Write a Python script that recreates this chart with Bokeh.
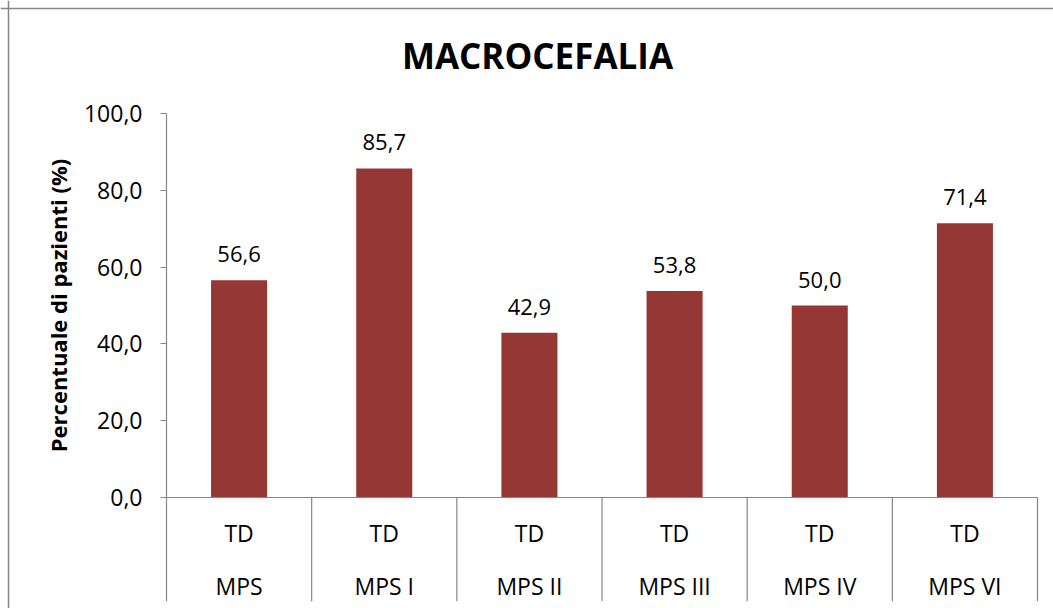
from bokeh.plotting import figure
from bokeh.models import ColumnDataSource, Range1d, FixedTicker, CustomJSTickFormatter, Span
from bokeh.core.properties import value
from bokeh.embed import file_html
from bokeh.resources import INLINE

# Macrocefalia: percentage of patients per MPS type (TD)
title = "MACROCEFALIA"
y_label = "Percentuale di pazienti (%)"
groups = ["MPS", "MPS I", "MPS II", "MPS III", "MPS IV", "MPS VI"]
subgroups = ["TD", "TD", "TD", "TD", "TD", "TD"]
values = [56.6, 85.7, 42.9, 53.8, 50.0, 71.4]
y_ticks = [0, 20, 40, 60, 80, 100]

FONT = "Open Sans"
GREY = "#868686"
BAR = "#953735"

W, H = 1053, 608
# plot area in pixels: categories span x 166..1037, value 0..100 spans y 497..113
LEFT, RIGHT, ZERO_Y, TOP_Y = 166, 1037, 497, 113
n = len(groups)
px_x = (RIGHT - LEFT) / n
px_y = (ZERO_Y - TOP_Y) / 100.0


def to_x(px):
    return (px - LEFT) / px_x


def to_y(py):
    return (ZERO_Y - py) / px_y


centers = [i + 0.5 for i in range(n)]
labels = [f"{v:.1f}".replace(".", ",") for v in values]
src = ColumnDataSource(dict(x=centers, group=groups, sub=subgroups,
                            value=values, label=labels))

y_low = -27.0  # bottom of the category rows

p = figure(width=W, height=H, output_backend="svg", toolbar_location=None,
           x_range=Range1d(to_x(0), to_x(W)),
           y_range=Range1d(to_y(H), to_y(0)),
           x_axis_location=None, title=None,
           min_border_left=0, min_border_right=0,
           min_border_top=0, min_border_bottom=0)
p.outline_line_color = None
p.xgrid.visible = False
p.ygrid.visible = False
p.background_fill_color = "white"
p.border_fill_color = "white"

# value axis at the left edge of the categories, drawn only over 0..100
ax = p.yaxis[0]
ax.fixed_location = 0
ax.bounds = (0, 100)
ax.ticker = FixedTicker(ticks=y_ticks)
ax.formatter = CustomJSTickFormatter(code="return tick.toFixed(1).replace('.', ',');")
ax.minor_tick_line_color = None
ax.major_tick_in = 0
ax.major_tick_out = 6
ax.axis_line_color = GREY
ax.axis_line_width = 1.2
ax.major_tick_line_color = GREY
ax.major_tick_line_width = 1.2
ax.major_label_standoff = 18
ax.major_label_text_font = FONT
ax.major_label_text_font_size = "23px"
ax.major_label_text_color = "black"
ax.axis_label = y_label
ax.axis_label_text_font = FONT
ax.axis_label_text_font_size = "22px"
ax.axis_label_text_font_style = "bold"
ax.axis_label_text_color = "black"
ax.axis_label_standoff = 8

txt = dict(text_align="center", text_baseline="middle",
           text_font=value(FONT), text_color="black")

# outer chart border: top and left edges
p.add_layout(Span(location=to_y(8), dimension="width", line_color=GREY, line_width=1.5))
p.add_layout(Span(location=to_x(8), dimension="height", line_color=GREY, line_width=1.5))

# bars
p.vbar(x="x", top="value", bottom=0, width=0.386, source=src,
       fill_color=BAR, line_color=None)

# value labels above the bars
p.text(x="x", y="value", text="label", source=src, y_offset=-26,
       text_font_size="22px", **txt)

# baseline at zero across the categories
p.segment(x0=[0], y0=[0], x1=[n], y1=[0], line_color=GREY, line_width=1.2)

# category separators below the baseline
edges = list(range(n + 1))
p.segment(x0=edges, y0=0, x1=edges, y1=y_low, line_color=GREY, line_width=1.2)

# two-level category labels
p.text(x="x", y=0, text="sub", source=src, y_offset=35, text_font_size="23px", **txt)
p.text(x="x", y=0, text="group", source=src, y_offset=88, text_font_size="23px", **txt)

# chart title, centred over the chart area
p.text(x=[to_x(537)], y=[to_y(55)], text=[title], text_font_size="35px",
       text_font_style="bold", **txt)

open("out.html", "w").write(file_html(p, INLINE))
